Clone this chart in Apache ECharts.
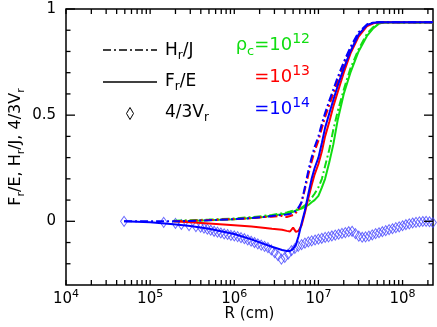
<!DOCTYPE html>
<html><head><meta charset="utf-8">
<script src="https://cdn.jsdelivr.net/npm/echarts@6/dist/echarts.min.js"></script>
<style>html,body{margin:0;padding:0;background:#fff}#c{width:437px;height:327px}</style>
</head><body><div id="c"></div>
<script>
// ---- data (R in cm) ----
const R_grid = [4.9e4, 1e5, 1.9e5, 3e5, 5e5, 1e6, 1.6e6, 2.2e6, 2.8e6, 3.7e6, 4.2e6, 4.6e6, 5e6, 5.4e6, 5.8e6, 6.3e6, 6.9e6, 7.6e6, 8.3e6, 9e6, 1e7, 1.1e7, 1.2e7, 1.35e7, 1.5e7, 1.7e7, 2e7, 2.4e7, 3e7, 3.8e7, 4.5e7, 5.2e7, 6e7, 1e8, 2.3e8];
const F12 = [null, null, 0, 0.002, 0.005, 0.01, 0.016, 0.02, 0.026, 0.033, 0.037, 0.04, 0.045, 0.05, 0.055, 0.06, 0.068, 0.077, 0.09, 0.1, 0.12, 0.16, 0.2, 0.28, 0.36, 0.48, 0.6, 0.7, 0.8, 0.875, 0.91, 0.93, 0.937, 0.937, 0.937];
const H12 = [null, null, 0.003, 0.005, 0.008, 0.013, 0.02, 0.025, 0.03, 0.038, 0.042, 0.046, 0.05, 0.054, 0.058, 0.064, 0.075, 0.09, 0.11, 0.13, 0.16, 0.2, 0.26, 0.34, 0.43, 0.52, 0.62, 0.72, 0.81, 0.885, 0.915, 0.932, 0.937, 0.937, 0.937];
const F13 = [null, null, 0, -0.005, -0.01, -0.018, -0.025, -0.03, -0.035, -0.04, -0.045, -0.048, -0.03, -0.05, -0.045, -0.02, 0.04, 0.11, 0.17, 0.22, 0.27, 0.33, 0.4, 0.47, 0.54, 0.61, 0.7, 0.79, 0.87, 0.92, 0.933, 0.937, 0.938, 0.938, 0.938];
const H13 = [null, null, 0, 0.003, 0.006, 0.01, 0.015, 0.02, 0.022, 0.025, 0.02, 0.025, 0.03, 0.04, 0.055, 0.09, 0.15, 0.22, 0.28, 0.33, 0.38, 0.44, 0.49, 0.55, 0.6, 0.66, 0.74, 0.81, 0.88, 0.925, 0.935, 0.938, 0.938, 0.938, 0.938];
const F14 = [0, -0.005, -0.014, -0.022, -0.035, -0.06, -0.085, -0.105, -0.12, -0.135, -0.14, -0.14, -0.13, -0.11, -0.07, -0.01, 0.05, 0.13, 0.2, 0.25, 0.3, 0.37, 0.44, 0.51, 0.57, 0.64, 0.72, 0.8, 0.88, 0.925, 0.935, 0.938, 0.938, 0.938, 0.938];
const H14 = [0, 0, 0, 0.002, 0.005, 0.01, 0.015, 0.02, 0.025, 0.03, 0.032, 0.035, 0.04, 0.05, 0.065, 0.09, 0.16, 0.24, 0.3, 0.35, 0.4, 0.46, 0.51, 0.57, 0.62, 0.68, 0.75, 0.82, 0.89, 0.928, 0.936, 0.938, 0.938, 0.938, 0.938];

const V_R = [4.9e4, 1.45e5, 2.0e5, 2.35e5, 2.9e5, 3.5e5,
  3.981e5, 4.365e5, 4.786e5, 5.248e5, 5.754e5, 6.31e5, 6.918e5, 7.586e5, 8.318e5, 9.12e5,
  1.0e6, 1.096e6, 1.202e6, 1.318e6, 1.445e6, 1.585e6, 1.738e6, 1.905e6, 2.089e6, 2.291e6, 2.512e6, 2.754e6, 3.02e6, 3.311e6, 3.631e6, 3.981e6, 4.365e6, 4.786e6, 5.248e6, 5.754e6, 6.31e6, 6.918e6, 7.586e6, 8.318e6, 9.12e6,
  1.0e7, 1.096e7, 1.202e7, 1.318e7, 1.445e7, 1.585e7, 1.738e7, 1.905e7, 2.089e7, 2.291e7, 2.512e7, 2.754e7, 3.02e7, 3.311e7, 3.631e7, 3.981e7, 4.365e7, 4.786e7, 5.248e7, 5.754e7, 6.31e7, 6.918e7, 7.586e7, 8.318e7, 9.12e7,
  1.0e8, 1.096e8, 1.202e8, 1.318e8, 1.445e8, 1.585e8, 1.738e8, 1.905e8, 2.089e8, 2.291e8];
const V14 = [0, -0.005, -0.01, -0.015, -0.02, -0.025,
  -0.028, -0.032, -0.037, -0.042, -0.047, -0.051, -0.055, -0.059, -0.062, -0.066,
  -0.069, -0.072, -0.077, -0.082, -0.088, -0.094, -0.1, -0.106, -0.112, -0.118, -0.124, -0.135, -0.148, -0.162, -0.178, -0.17, -0.155, -0.138, -0.128, -0.118, -0.11, -0.103, -0.097, -0.092, -0.088,
  -0.084, -0.08, -0.076, -0.073, -0.069, -0.065, -0.061, -0.057, -0.053, -0.049, -0.047, -0.058, -0.07, -0.075, -0.073, -0.07, -0.064, -0.058, -0.054, -0.049, -0.044, -0.039, -0.035, -0.03, -0.026,
  -0.021, -0.016, -0.012, -0.008, -0.005, -0.003, -0.001, 0.0, -0.002, -0.006];

const xMajorTicks = [1e4, 1e5, 1e6, 1e7, 1e8];
const xMinorTicks = [2e4,3e4,4e4,5e4,6e4,7e4,8e4,9e4, 2e5,3e5,4e5,5e5,6e5,7e5,8e5,9e5, 2e6,3e6,4e6,5e6,6e6,7e6,8e6,9e6, 2e7,3e7,4e7,5e7,6e7,7e7,8e7,9e7, 2e8];
const yLabelTicks = [0, 0.5, 1];
const yMinorTicks = [-0.2, -0.1, 0.1, 0.2, 0.3, 0.4, 0.6, 0.7, 0.8, 0.9];
const X_MIN = 1e4, X_MAX = 2.3e8, Y_MIN = -0.3, Y_MAX = 1;

const FONT = 'DejaVu Sans';
const BLUE = '#0000ff', RED = '#ff0000', GREEN = '#11dd11';
const DASHDOT = [8, 3, 2, 3];
const X_TICK_LEN = 5, Y_MINOR_LEN = 4.5, Y_MAJOR_LEN = 9, TICK_W = 1.3;

function pairs(xs, ys) { const out = []; for (let i = 0; i < xs.length; i++) { if (ys[i] !== null) out.push([xs[i], ys[i]]); } return out; }
const lg = v => Math.log10(v);

const xLabelAxis = {
  type: 'value', gridIndex: 0, position: 'bottom', min: lg(X_MIN), max: lg(X_MAX),
  axisLine: { show: false, onZero: false }, splitLine: { show: false }, axisTick: { show: false },
  axisLabel: {
    show: true, customValues: xMajorTicks.map(lg), margin: 4, color: '#000',
    formatter: v => '{b|10}{p|' + Math.round(v) + '}',
    rich: { b: { fontFamily: FONT, fontSize: 15, lineHeight: 20, color: '#000' }, p: { fontFamily: FONT, fontSize: 11, lineHeight: 11, verticalAlign: 'top', color: '#000' } }
  },
  name: 'R (cm)', nameLocation: 'middle', nameGap: 22, nameMoveOverlap: false,
  nameTextStyle: { fontFamily: FONT, fontSize: 15, color: '#000' }
};

const yMain = {
  type: 'value', gridIndex: 0, position: 'left', min: Y_MIN, max: Y_MAX,
  axisLine: { show: false, onZero: false }, splitLine: { show: false }, axisTick: { show: false },
  axisLabel: { show: true, customValues: yLabelTicks, margin: 10, color: '#000', fontFamily: FONT, fontSize: 15, formatter: v => String(v) },
  name: '{n|F}{s|r}{n|/E, H}{s|r}{n|/J, 4/3V}{s|r}',
  nameLocation: 'middle', nameGap: 39, nameMoveOverlap: false,
  nameTextStyle: { color: '#000', fontFamily: FONT, fontSize: 16,
    rich: { n: { fontFamily: FONT, fontSize: 16, lineHeight: 22, color: '#000' }, s: { fontFamily: FONT, fontSize: 11, lineHeight: 11, verticalAlign: 'bottom', color: '#000' } } }
};

function lineSeries(name, ys, color, dash) {
  return { name, type: 'line', xAxisIndex: 0, yAxisIndex: 0, data: pairs(R_grid, ys), showSymbol: false, symbol: 'none',
    smooth: false, z: 3, lineStyle: { color, width: 2, type: dash ? DASHDOT : 'solid' }, emphasis: { disabled: true } };
}

// tick marks as small rect symbols placed through the axes
function tickSeries(data, size, offset) {
  return { type: 'scatter', xAxisIndex: 0, yAxisIndex: 0, data, symbol: 'rect', symbolSize: size, symbolOffset: offset,
    clip: false, silent: true, z: 6, itemStyle: { color: '#000', borderWidth: 0, opacity: 1 }, emphasis: { disabled: true } };
}
const xTickVals = xMajorTicks.concat(xMinorTicks);

const richL = () => ({
  n: { fontFamily: FONT, fontSize: 17, lineHeight: 22, fill: '#000' },
  s: { fontFamily: FONT, fontSize: 12, lineHeight: 12, verticalAlign: 'bottom', fill: '#000' }
});
function richC(col) {
  return {
    n: { fontFamily: FONT, fontSize: 18, lineHeight: 26, fill: col },
    s: { fontFamily: FONT, fontSize: 13, lineHeight: 12, verticalAlign: 'bottom', fill: col },
    p: { fontFamily: FONT, fontSize: 14, lineHeight: 12, verticalAlign: 'top', fill: col }
  };
}

const chart = echarts.init(document.getElementById('c'), null, { renderer: 'canvas' });
chart.setOption({
  animation: false,
  backgroundColor: '#fff',
  grid: { left: 61, right: 4, top: 9, bottom: 42, show: true, borderColor: '#000', borderWidth: 1.5, containLabel: false },
  xAxis: [
    { type: 'log', logBase: 10, gridIndex: 0, min: X_MIN, max: X_MAX, show: false, axisLine: { onZero: false } },
    xLabelAxis
  ],
  yAxis: [ yMain ],
  series: [
    { name: '4/3Vr', type: 'scatter', xAxisIndex: 0, yAxisIndex: 0, data: pairs(V_R, V14), symbol: 'diamond', symbolSize: [7, 10], z: 2,
      itemStyle: { color: 'transparent', borderColor: '#4444ff', borderWidth: 1 }, emphasis: { disabled: true } },
    lineSeries('H12', H12, GREEN, true),
    lineSeries('F12', F12, GREEN, false),
    lineSeries('H13', H13, RED, true),
    lineSeries('F13', F13, RED, false),
    lineSeries('H14', H14, BLUE, true),
    lineSeries('F14', F14, BLUE, false),
    tickSeries(xTickVals.map(v => [v, Y_MIN]), [TICK_W, X_TICK_LEN], [0, -X_TICK_LEN / 2]),
    tickSeries(xTickVals.map(v => [v, Y_MAX]), [TICK_W, X_TICK_LEN], [0, X_TICK_LEN / 2]),
    tickSeries(yMinorTicks.map(v => [X_MIN, v]), [Y_MINOR_LEN, TICK_W], [Y_MINOR_LEN / 2, 0]),
    tickSeries(yMinorTicks.map(v => [X_MAX, v]), [Y_MINOR_LEN, TICK_W], [-Y_MINOR_LEN / 2, 0]),
    tickSeries(yLabelTicks.map(v => [X_MIN, v]), [Y_MAJOR_LEN, TICK_W], [Y_MAJOR_LEN / 2, 0]),
    tickSeries(yLabelTicks.map(v => [X_MAX, v]), [Y_MAJOR_LEN, TICK_W], [-Y_MAJOR_LEN / 2, 0])
  ],
  graphic: [
    { type: 'line', shape: { x1: 103, y1: 50, x2: 157, y2: 50 }, style: { stroke: '#000', lineWidth: 1.5, lineDash: DASHDOT } },
    { type: 'text', x: 165, y: 51, style: { text: '{n|H}{s|r}{n|/J}', rich: richL(), verticalAlign: 'middle', align: 'left' } },
    { type: 'line', shape: { x1: 103, y1: 82, x2: 157, y2: 82 }, style: { stroke: '#000', lineWidth: 1.5 } },
    { type: 'text', x: 165, y: 82, style: { text: '{n|F}{s|r}{n|/E}', rich: richL(), verticalAlign: 'middle', align: 'left' } },
    { type: 'polygon', shape: { points: [[130, 107.5], [133.5, 113.5], [130, 119.5], [126.5, 113.5]] }, style: { fill: 'none', stroke: '#000', lineWidth: 1 } },
    { type: 'text', x: 165, y: 113, style: { text: '{n|4/3V}{s|r}', rich: richL(), verticalAlign: 'middle', align: 'left' } },
    { type: 'text', x: 310, y: 45, style: { text: '{n|ρ}{s|c}{n|=10}{p|12}', rich: richC(GREEN), verticalAlign: 'middle', align: 'right' } },
    { type: 'text', x: 310, y: 77, style: { text: '{n|=10}{p|13}', rich: richC(RED), verticalAlign: 'middle', align: 'right' } },
    { type: 'text', x: 310, y: 109, style: { text: '{n|=10}{p|14}', rich: richC(BLUE), verticalAlign: 'middle', align: 'right' } }
  ]
});
</script>
</body></html>
